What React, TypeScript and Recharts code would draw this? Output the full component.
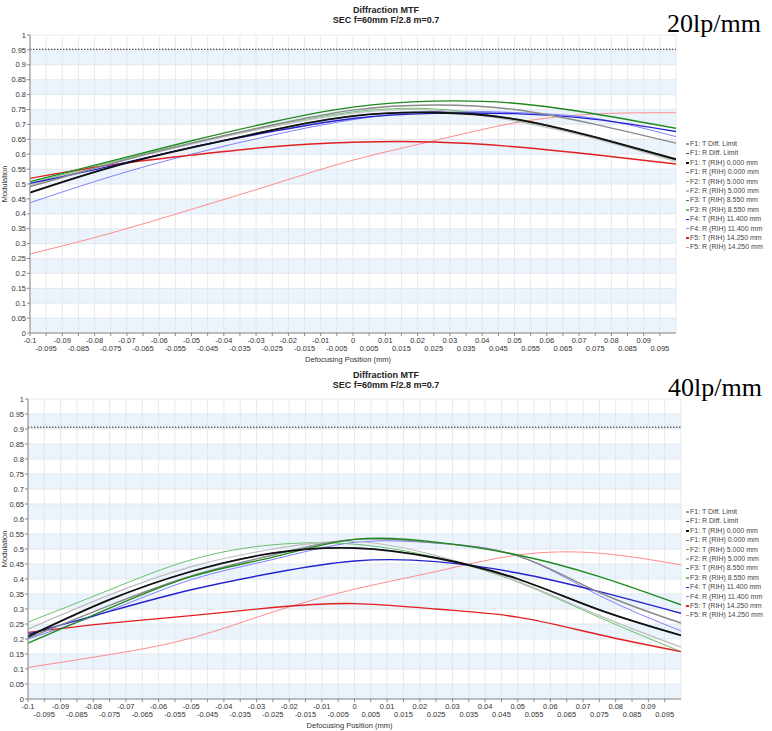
import { LineChart, Line, XAxis, YAxis, CartesianGrid, ReferenceLine } from 'recharts';

// defocus positions (mm)
const X_POS = [-0.1, -0.075, -0.05, -0.025, 0, 0.025, 0.05, 0.075, 0.1];

const X_TICKS = [
  -0.1, -0.095, -0.09, -0.085, -0.08, -0.075, -0.07, -0.065, -0.06, -0.055,
  -0.05, -0.045, -0.04, -0.035, -0.03, -0.025, -0.02, -0.015, -0.01, -0.005,
  0, 0.005, 0.01, 0.015, 0.02, 0.025, 0.03, 0.035, 0.04, 0.045,
  0.05, 0.055, 0.06, 0.065, 0.07, 0.075, 0.08, 0.085, 0.09, 0.095,
];
const Y_TICKS = [
  0, 0.05, 0.1, 0.15, 0.2, 0.25, 0.3, 0.35, 0.4, 0.45, 0.5,
  0.55, 0.6, 0.65, 0.7, 0.75, 0.8, 0.85, 0.9, 0.95, 1,
];

// 20 lp/mm
const DIFF_20 = 0.952;
const F1T_20 = [0.471, 0.556, 0.622, 0.681, 0.728, 0.74, 0.718, 0.657, 0.583];
const F1R_20 = [0.473, 0.557, 0.623, 0.682, 0.729, 0.741, 0.719, 0.658, 0.584];
const F2T_20 = [0.491, 0.568, 0.637, 0.698, 0.748, 0.765, 0.75, 0.7, 0.637];
const F2R_20 = [0.495, 0.57, 0.634, 0.692, 0.738, 0.748, 0.712, 0.652, 0.575];
const F3T_20 = [0.508, 0.577, 0.645, 0.708, 0.758, 0.778, 0.771, 0.735, 0.687];
const F3R_20 = [0.502, 0.573, 0.638, 0.696, 0.742, 0.752, 0.716, 0.656, 0.58];
const F4T_20 = [0.502, 0.56, 0.623, 0.676, 0.72, 0.737, 0.736, 0.717, 0.676];
const F4R_20 = [0.437, 0.525, 0.6, 0.664, 0.716, 0.743, 0.74, 0.72, 0.659];
const F5T_20 = [0.519, 0.564, 0.597, 0.625, 0.64, 0.641, 0.625, 0.598, 0.567];
const F5R_20 = [0.265, 0.335, 0.415, 0.498, 0.58, 0.645, 0.705, 0.735, 0.739];

// 40 lp/mm
const DIFF_40 = 0.906;
const F1T_40 = [0.208, 0.331, 0.425, 0.486, 0.503, 0.47, 0.4, 0.297, 0.212];
const F1R_40 = [0.209, 0.332, 0.426, 0.487, 0.504, 0.471, 0.401, 0.298, 0.213];
const F2T_40 = [0.203, 0.312, 0.41, 0.48, 0.532, 0.52, 0.477, 0.355, 0.253];
const F2R_40 = [0.233, 0.347, 0.441, 0.5, 0.525, 0.478, 0.392, 0.278, 0.173];
const F3T_40 = [0.186, 0.303, 0.408, 0.473, 0.532, 0.523, 0.48, 0.408, 0.314];
const F3R_40 = [0.256, 0.364, 0.464, 0.514, 0.516, 0.472, 0.39, 0.272, 0.158];
const F4T_40 = [0.216, 0.292, 0.364, 0.42, 0.46, 0.458, 0.42, 0.358, 0.286];
const F4R_40 = [0.2, 0.295, 0.398, 0.465, 0.522, 0.52, 0.477, 0.345, 0.227];
const F5T_40 = [0.222, 0.253, 0.278, 0.305, 0.318, 0.3, 0.273, 0.214, 0.158];
const F5R_40 = [0.105, 0.148, 0.203, 0.29, 0.366, 0.425, 0.48, 0.486, 0.447];

const LEGEND = [
  { name: 'F1: T Diff. Limit', color: '#9a9a9a' },
  { name: 'F1: R Diff. Limit', color: '#444444' },
  { name: 'F1: T (RIH) 0.000 mm', color: '#111111' },
  { name: 'F1: R (RIH) 0.000 mm', color: '#777777' },
  { name: 'F2: T (RIH) 5.000 mm', color: '#8a8a8a' },
  { name: 'F2: R (RIH) 5.000 mm', color: '#bdbdbd' },
  { name: 'F3: T (RIH) 8.550 mm', color: '#1e8a1e' },
  { name: 'F3: R (RIH) 8.550 mm', color: '#6cc06c' },
  { name: 'F4: T (RIH) 11.400 mm', color: '#2323cf' },
  { name: 'F4: R (RIH) 11.400 mm', color: '#8080ff' },
  { name: 'F5: T (RIH) 14.250 mm', color: '#e02020' },
  { name: 'F5: R (RIH) 14.250 mm', color: '#ff8c8c' },
];

// draw order: thin R curves first, T curves on top
const SERIES = [
  { key: 'f5r', color: '#ff8c8c', w: 1 },
  { key: 'f4r', color: '#8080ff', w: 1 },
  { key: 'f3r', color: '#6cc06c', w: 1 },
  { key: 'f2r', color: '#bdbdbd', w: 1.2 },
  { key: 'f1r', color: '#777777', w: 1 },
  { key: 'f5t', color: '#e02020', w: 1.4 },
  { key: 'f4t', color: '#2323cf', w: 1.4 },
  { key: 'f2t', color: '#8a8a8a', w: 1.4 },
  { key: 'f3t', color: '#1e8a1e', w: 1.4 },
  { key: 'f1t', color: '#111111', w: 1.8 },
];

const rows = (t1, r1, t2, r2, t3, r3, t4, r4, t5, r5) =>
  X_POS.map((x, i) => ({
    x,
    f1t: t1[i], f1r: r1[i], f2t: t2[i], f2r: r2[i], f3t: t3[i],
    f3r: r3[i], f4t: t4[i], f4r: r4[i], f5t: t5[i], f5r: r5[i],
  }));

const DATA_20 = rows(F1T_20, F1R_20, F2T_20, F2R_20, F3T_20, F3R_20, F4T_20, F4R_20, F5T_20, F5R_20);
const DATA_40 = rows(F1T_40, F1R_40, F2T_40, F2R_40, F3T_40, F3R_40, F4T_40, F4R_40, F5T_40, F5R_40);

const FONT = "'Liberation Sans', Arial, sans-serif";
const fmt = (v) => String(Number(v.toFixed(3)));

const XTick = (props) => {
  const { x, y, payload } = props;
  const v = payload.value;
  const lower = Math.round(Math.abs(v) * 1000) % 10 === 5;
  return (
    <text x={x} y={y + (lower ? 8 : 0)} dy="0.71em" textAnchor="middle" fontSize={7.5} fill="#333" fontFamily={FONT}>
      {fmt(v)}
    </text>
  );
};

function MtfChart({ data, diff, top, height, marginTop, marginRight, yWidth }) {
  return (
    <div style={{ position: 'absolute', left: 0, top, width: 772, height }}>
      <LineChart
        width={772}
        height={height}
        data={data}
        margin={{ top: marginTop, right: marginRight, bottom: 0, left: 0 }}
        style={{ fontFamily: FONT }}
      >
        <CartesianGrid
          stroke="#dfe3e8"
          strokeWidth={0.8}
          horizontalFill={['#ffffff', '#ebf4fc']}
          fillOpacity={1}
        />
        <XAxis
          dataKey="x"
          type="number"
          domain={[-0.1, 0.1]}
          ticks={X_TICKS}
          interval={0}
          height={32}
          tickSize={3}
          tickMargin={2}
          tick={<XTick />}
          stroke="#888"
          allowDataOverflow
          label={{ value: 'Defocusing Position (mm)', position: 'insideBottom', offset: 3, dx: -5, fontSize: 7.5, fill: '#333' }}
        />
        <YAxis
          type="number"
          domain={[0, 1]}
          ticks={Y_TICKS}
          interval={0}
          width={yWidth}
          tickSize={3}
          tickMargin={1}
          tick={{ fontSize: 7.5, fill: '#333' }}
          tickFormatter={(v) => fmt(v)}
          stroke="#888"
          label={{ value: 'Modulation', angle: -90, position: 'insideLeft', offset: 4, fontSize: 7.5, fill: '#333', style: { textAnchor: 'middle' } }}
        />
        <ReferenceLine y={diff} stroke="#9a9a9a" strokeWidth={1} strokeDasharray="2 1" />
        <ReferenceLine y={diff} stroke="#444" strokeWidth={1} strokeDasharray="1 2" />
        {SERIES.map((s) => (
          <Line
            key={s.key}
            dataKey={s.key}
            type="natural"
            stroke={s.color}
            strokeWidth={s.w}
            dot={false}
            activeDot={false}
            isAnimationActive={false}
          />
        ))}
      </LineChart>
    </div>
  );
}

function Titles({ top }) {
  return (
    <div
      style={{
        position: 'absolute', left: 0, top, width: 772, textAlign: 'center',
        fontFamily: FONT, fontWeight: 'bold', fontSize: 9, lineHeight: '10px', color: '#222',
      }}
    >
      <div>Diffraction MTF</div>
      <div>SEC f=60mm F/2.8 m=0.7</div>
    </div>
  );
}

function Legend({ top }) {
  return (
    <div style={{ position: 'absolute', left: 686, top, fontFamily: FONT, fontSize: 7, color: '#444' }}>
      {LEGEND.map((e) => (
        <div key={e.name} style={{ height: 9.4, lineHeight: '9.4px', whiteSpace: 'nowrap' }}>
          <span style={{ display: 'inline-block', width: 3, height: 1.5, background: e.color, verticalAlign: 'middle', marginRight: 1 }} />
          {e.name}
        </div>
      ))}
    </div>
  );
}

const bigLabel = {
  position: 'absolute',
  fontFamily: "'Liberation Serif', 'Times New Roman', serif",
  fontSize: 26,
  lineHeight: '26px',
  color: '#000',
  whiteSpace: 'nowrap',
};

export default function App() {
  return (
    <div style={{ position: 'absolute', left: 0, top: 0, width: 772, height: 731, background: '#fff', overflow: 'hidden' }}>
      <MtfChart data={DATA_20} diff={DIFF_20} top={0} height={365} marginTop={35} marginRight={96} yWidth={30} />
      <MtfChart data={DATA_40} diff={DIFF_40} top={365} height={366} marginTop={34} marginRight={91} yWidth={28} />
      <Titles top={5} />
      <Titles top={370} />
      <div style={{ ...bigLabel, left: 667, top: 11 }}>20lp/mm</div>
      <div style={{ ...bigLabel, left: 668, top: 375 }}>40lp/mm</div>
      <Legend top={139} />
      <Legend top={507} />
    </div>
  );
}
